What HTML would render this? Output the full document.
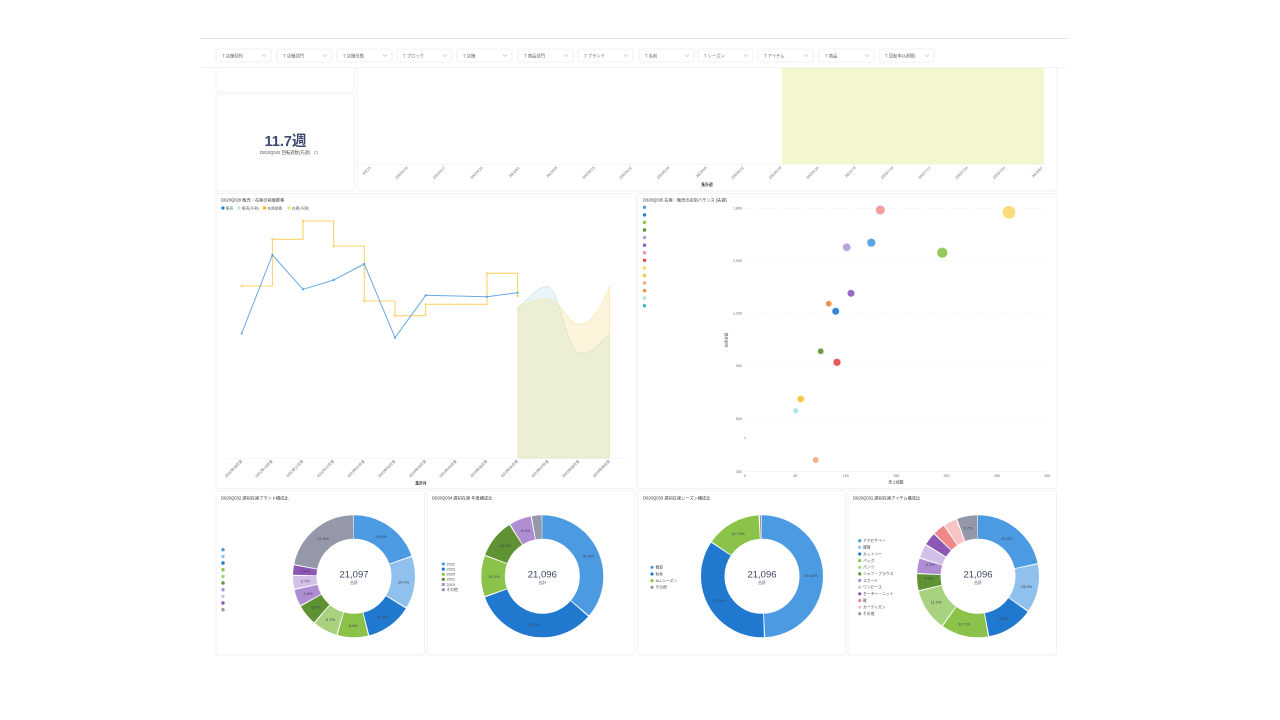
<!DOCTYPE html>
<html><head><meta charset="utf-8">
<style>
html,body{margin:0;padding:0;background:#fff;}
svg{display:block;font-family:"Liberation Sans","Noto Sans CJK JP",sans-serif;}
</style></head><body>
<svg width="1280" height="720" viewBox="0 0 1280 720">
<rect width="1280" height="720" fill="#fff"/>
<line x1="200" y1="38.5" x2="1068" y2="38.5" stroke="#e3e5e9" stroke-width="1"/>

<!-- cards -->
<g fill="#fff" stroke="#eceef1" stroke-width="0.8">
<rect x="216" y="40" width="138" height="52" rx="2"/>
<rect x="216" y="94" width="138" height="97" rx="2"/>
<rect x="357" y="40" width="700" height="151" rx="2"/>
<rect x="216" y="193.5" width="420" height="295" rx="2"/>
<rect x="638" y="193.5" width="419" height="295" rx="2"/>
<rect x="216" y="490.5" width="208.5" height="164.5" rx="2"/>
<rect x="427" y="490.5" width="208" height="164.5" rx="2"/>
<rect x="638" y="490.5" width="207.5" height="164.5" rx="2"/>
<rect x="848" y="490.5" width="208.5" height="164.5" rx="2"/>
</g>

<!-- filter bar -->
<rect x="200" y="39" width="868" height="28" fill="#fff"/>
<line x1="200" y1="67.5" x2="1068" y2="67.5" stroke="#eef0f2" stroke-width="0.8"/>
<g font-size="4.3" fill="#666">
<g fill="#fff" stroke="#e3e5e8" stroke-width="0.6">
<rect x="216" y="49" width="55" height="13" rx="2"/>
<rect x="277" y="49" width="55" height="13" rx="2"/>
<rect x="337" y="49" width="55" height="13" rx="2"/>
<rect x="397" y="49" width="55" height="13" rx="2"/>
<rect x="457" y="49" width="55" height="13" rx="2"/>
<rect x="518" y="49" width="55" height="13" rx="2"/>
<rect x="578" y="49" width="55" height="13" rx="2"/>
<rect x="639" y="49" width="55" height="13" rx="2"/>
<rect x="698" y="49" width="55" height="13" rx="2"/>
<rect x="758" y="49" width="55" height="13" rx="2"/>
<rect x="819" y="49" width="55" height="13" rx="2"/>
<rect x="879" y="49" width="55" height="13" rx="2"/>
</g>
<text x="222" y="57.3">T 店舗契約</text>
<text x="283" y="57.3">T 店舗部門</text>
<text x="343" y="57.3">T 店舗形態</text>
<text x="403" y="57.3">T ブロック</text>
<text x="463" y="57.3">T 店舗</text>
<text x="524" y="57.3">T 商品部門</text>
<text x="584" y="57.3">T ブランド</text>
<text x="645" y="57.3">T 名前</text>
<text x="704" y="57.3">T シーズン</text>
<text x="764" y="57.3">T アイテム</text>
<text x="825" y="57.3">T 商品</text>
<text x="885" y="57.3">T 回転率(4週間)</text>
<g fill="none" stroke="#888" stroke-width="0.5">
<polyline points="262,54.5 264,56.5 266,54.5"/>
<polyline points="323,54.5 325,56.5 327,54.5"/>
<polyline points="383,54.5 385,56.5 387,54.5"/>
<polyline points="443,54.5 445,56.5 447,54.5"/>
<polyline points="503,54.5 505,56.5 507,54.5"/>
<polyline points="564,54.5 566,56.5 568,54.5"/>
<polyline points="624,54.5 626,56.5 628,54.5"/>
<polyline points="685,54.5 687,56.5 689,54.5"/>
<polyline points="744,54.5 746,56.5 748,54.5"/>
<polyline points="804,54.5 806,56.5 808,54.5"/>
<polyline points="865,54.5 867,56.5 869,54.5"/>
<polyline points="925,54.5 927,56.5 929,54.5"/>
</g>
</g>

<!-- KPI -->
<text x="285.5" y="146" font-size="14.5" font-weight="bold" fill="#3b4a6e" text-anchor="middle">11.7週</text>
<text x="285" y="154" font-size="4.3" fill="#555" text-anchor="middle">D020Q042 回転週数(先週)</text>
<circle cx="316" cy="152.6" r="1.6" fill="none" stroke="#888" stroke-width="0.5"/>

<!-- top chart -->
<rect x="782" y="68" width="262" height="96" fill="#f4f6cd"/>
<line x1="358" y1="164.3" x2="1046" y2="164.3" stroke="#eef0f2" stroke-width="0.6"/>
<g font-size="3.6" fill="#667" text-anchor="end">
<text transform="translate(371,168) rotate(-45)">4/3/23</text>
<text transform="translate(408,168) rotate(-45)">2023/4/10</text>
<text transform="translate(445.5,168) rotate(-45)">2023/4/17</text>
<text transform="translate(483,168) rotate(-45)">2023/4/24</text>
<text transform="translate(520,168) rotate(-45)">2023/5/1</text>
<text transform="translate(557.5,168) rotate(-45)">2023/5/8</text>
<text transform="translate(595,168) rotate(-45)">2023/5/15</text>
<text transform="translate(632,168) rotate(-45)">2023/5/22</text>
<text transform="translate(669.5,168) rotate(-45)">2023/5/29</text>
<text transform="translate(707,168) rotate(-45)">2023/6/5</text>
<text transform="translate(744,168) rotate(-45)">2023/6/12</text>
<text transform="translate(781.5,168) rotate(-45)">2023/6/19</text>
<text transform="translate(819,168) rotate(-45)">2023/6/26</text>
<text transform="translate(856,168) rotate(-45)">2023/7/3</text>
<text transform="translate(893.5,168) rotate(-45)">2023/7/10</text>
<text transform="translate(931,168) rotate(-45)">2023/7/17</text>
<text transform="translate(968,168) rotate(-45)">2023/7/24</text>
<text transform="translate(1005.5,168) rotate(-45)">2023/7/31</text>
<text transform="translate(1043,168) rotate(-45)">2023/8/7</text>
</g>
<text x="707" y="186" font-size="3.8" fill="#334" text-anchor="middle" font-weight="bold">集計週</text>

<!-- line chart -->
<text x="221" y="201.5" font-size="4.2" fill="#333">D020Q020 販売・在庫の前後推移</text>
<g font-size="3.6" fill="#555">
<circle cx="223" cy="208" r="1.6" fill="#1f78d1"/><text x="226" y="209.3">販売</text>
<circle cx="239" cy="208" r="1.6" fill="#b8e3e6"/><text x="242" y="209.3">販売(予測)</text>
<circle cx="264.5" cy="208" r="1.6" fill="#f5b800"/><text x="267.5" y="209.3">在庫金額</text>
<circle cx="289" cy="208" r="1.6" fill="#fcd97a"/><text x="292" y="209.3">在庫(予測)</text>
</g>
<line x1="226" y1="458.5" x2="626" y2="458.5" stroke="#eef0f2" stroke-width="0.6"/>
<path d="M518,307.3 C530,298 538,286 547.3,286.7 C560,288 566,350 579,352.7 C592,355 600,343 609.7,333.3 L609.7,458 L518,458 Z" fill="#e9f5f6" stroke="#bfe4e8" stroke-width="0.6"/>
<path d="M518,307.3 C528,302 538,299 547.3,299 C560,299 568,324 579,324.3 C592,325 602,305 609.7,286 L609.7,458 L518,458 Z" fill="rgba(246,222,135,0.3)" stroke="#fbe3a3" stroke-width="0.6"/>
<path d="M241.7,286 H272.4 V239.3 H303 V221 H333.7 V246 H364.3 V301 H395 V315.7 H425.7 V304.3 H487 V273.3 H517.6 V296" fill="none" stroke="#fbd46c" stroke-width="1.1"/>
<g fill="#fbd46c">
<circle cx="241.7" cy="286" r="1.2"/><circle cx="272.4" cy="239.3" r="1.2"/><circle cx="303" cy="221" r="1.2"/><circle cx="333.7" cy="246" r="1.2"/><circle cx="364.3" cy="301" r="1.2"/><circle cx="395" cy="315.7" r="1.2"/><circle cx="425.7" cy="304.3" r="1.2"/><circle cx="487" cy="273.3" r="1.2"/><circle cx="517.6" cy="296" r="1.2"/>
</g>
<polyline points="241.7,333.3 272.4,255 303,289.3 333.7,280 364.3,264 395,337.7 425.7,295.3 456.3,296 487,296.7 517.6,292.7" fill="none" stroke="#6aaae3" stroke-width="1"/>
<g fill="#5a9fe0">
<circle cx="241.7" cy="333.3" r="1.1"/><circle cx="272.4" cy="255" r="1.1"/><circle cx="303" cy="289.3" r="1.1"/><circle cx="333.7" cy="280" r="1.1"/><circle cx="364.3" cy="264" r="1.1"/><circle cx="395" cy="337.7" r="1.1"/><circle cx="425.7" cy="295.3" r="1.1"/><circle cx="487" cy="296.7" r="1.1"/><circle cx="517.6" cy="292.7" r="1.1"/>
</g>
<g font-size="3.6" fill="#667" text-anchor="end">
<text transform="translate(242.5,461.5) rotate(-45)">2022年09月度</text>
<text transform="translate(273,461.5) rotate(-45)">2022年10月度</text>
<text transform="translate(303.7,461.5) rotate(-45)">2022年11月度</text>
<text transform="translate(334.4,461.5) rotate(-45)">2022年12月度</text>
<text transform="translate(365,461.5) rotate(-45)">2023年01月度</text>
<text transform="translate(395.7,461.5) rotate(-45)">2023年02月度</text>
<text transform="translate(426.4,461.5) rotate(-45)">2023年03月度</text>
<text transform="translate(457,461.5) rotate(-45)">2023年04月度</text>
<text transform="translate(487.7,461.5) rotate(-45)">2023年05月度</text>
<text transform="translate(518.3,461.5) rotate(-45)">2023年06月度</text>
<text transform="translate(549,461.5) rotate(-45)">2023年07月度</text>
<text transform="translate(579.7,461.5) rotate(-45)">2023年08月度</text>
<text transform="translate(610.3,461.5) rotate(-45)">2023年09月度</text>
</g>
<text x="421" y="484.5" font-size="3.8" fill="#334" text-anchor="middle" font-weight="bold">集計月</text>

<!-- scatter -->
<text x="643" y="201.5" font-size="4.2" fill="#333">D020Q035 在庫・販売の店別バランス (先週)</text>
<g>
<circle cx="644.5" cy="207.3" r="1.7" fill="#4c9be2"/>
<circle cx="644.5" cy="214.9" r="1.7" fill="#1f7bd1"/>
<circle cx="644.5" cy="222.4" r="1.7" fill="#8bc34a"/>
<circle cx="644.5" cy="230" r="1.7" fill="#5d9130"/>
<circle cx="644.5" cy="237.6" r="1.7" fill="#b39ad6"/>
<circle cx="644.5" cy="245.2" r="1.7" fill="#8e5cc0"/>
<circle cx="644.5" cy="252.7" r="1.7" fill="#f29494"/>
<circle cx="644.5" cy="260.3" r="1.7" fill="#e84545"/>
<circle cx="644.5" cy="267.9" r="1.7" fill="#fdd85a"/>
<circle cx="644.5" cy="275.4" r="1.7" fill="#f8c22e"/>
<circle cx="644.5" cy="283" r="1.7" fill="#f5a97a"/>
<circle cx="644.5" cy="290.6" r="1.7" fill="#ef8a3c"/>
<circle cx="644.5" cy="298.1" r="1.7" fill="#a3e2e2"/>
<circle cx="644.5" cy="305.7" r="1.7" fill="#3cbcbc"/>
</g>
<g stroke="#e6e8eb" stroke-width="0.5" stroke-dasharray="1.5,1.5">
<line x1="745" y1="208.3" x2="1047" y2="208.3"/>
<line x1="745" y1="261" x2="1047" y2="261"/>
<line x1="745" y1="313.3" x2="1047" y2="313.3"/>
<line x1="745" y1="366" x2="1047" y2="366"/>
<line x1="745" y1="419" x2="1047" y2="419"/>
</g>
<line x1="745" y1="471.7" x2="1047" y2="471.7" stroke="#eceef1" stroke-width="0.6"/>
<g font-size="3.6" fill="#667" text-anchor="end">
<text x="742" y="209.5">1,800</text>
<text x="742" y="262.2">1,500</text>
<text x="742" y="314.5">1,200</text>
<text x="742" y="367.2">900</text>
<text x="742" y="420.2">600</text>
<text x="742" y="472.9">300</text>
</g>
<g font-size="3.6" fill="#667" text-anchor="middle">
<text x="745" y="477">0</text>
<text x="795.4" y="477">50</text>
<text x="845.8" y="477">100</text>
<text x="896.2" y="477">150</text>
<text x="946.5" y="477">200</text>
<text x="996.9" y="477">250</text>
<text x="1047.3" y="477">300</text>
</g>
<text transform="translate(727.5,340) rotate(-90)" font-size="3.6" fill="#445" text-anchor="middle">在庫金額</text>
<text x="896" y="483.5" font-size="3.8" fill="#334" text-anchor="middle">売上枚数</text>
<g stroke="#fff" stroke-width="0.4" fill-opacity="0.9">
<circle cx="880.3" cy="210" r="4.7" fill="#f29494"/>
<circle cx="1009" cy="212.3" r="6.6" fill="#fbd86e"/>
<circle cx="871.3" cy="242.7" r="4.3" fill="#4c9be2"/>
<circle cx="846.7" cy="247.3" r="4.1" fill="#b39ad6"/>
<circle cx="942.3" cy="252.7" r="5.3" fill="#8bc34a"/>
<circle cx="851" cy="293.3" r="3.7" fill="#8e5cc0"/>
<circle cx="828.7" cy="303.7" r="3.1" fill="#ef8a3c"/>
<circle cx="835.7" cy="311.3" r="3.7" fill="#1f7bd1"/>
<circle cx="820.7" cy="351.3" r="3.1" fill="#5d9130"/>
<circle cx="837" cy="362.3" r="3.8" fill="#e84545"/>
<circle cx="800.7" cy="399" r="3.5" fill="#f8c22e"/>
<circle cx="795.7" cy="410.7" r="2.8" fill="#a3e2e2"/>
<circle cx="745" cy="438" r="1" fill="#3cbcbc"/>
<circle cx="815.7" cy="460" r="3.1" fill="#f5a97a"/>
</g>

<!-- donut titles -->
<g font-size="4.2" fill="#333">
<text x="221" y="499.5">D020Q032 週初在庫ブランド構成比</text>
<text x="432" y="499.5">D020Q034 週初在庫 年度構成比</text>
<text x="643" y="499.5">D020Q033 週初在庫シーズン構成比</text>
<text x="853" y="499.5">D020Q031 週初在庫アイテム構成比</text>
</g>

<!-- donut 1 -->
<g fill="none" stroke-width="23.5" transform="rotate(-90 354 576.3)">
<circle cx="354" cy="576.3" r="49.25" stroke="#4c9be2" stroke-dasharray="60.27 400" stroke-dashoffset="0"/>
<circle cx="354" cy="576.3" r="49.25" stroke="#8fc0ee" stroke-dasharray="42.32 400" stroke-dashoffset="-61.27"/>
<circle cx="354" cy="576.3" r="49.25" stroke="#2079cf" stroke-dasharray="37.37 400" stroke-dashoffset="-104.58"/>
<circle cx="354" cy="576.3" r="49.25" stroke="#8bc34a" stroke-dasharray="24.99 400" stroke-dashoffset="-142.95"/>
<circle cx="354" cy="576.3" r="49.25" stroke="#a8d27e" stroke-dasharray="19.73 400" stroke-dashoffset="-168.94"/>
<circle cx="354" cy="576.3" r="49.25" stroke="#5e9232" stroke-dasharray="16.64 400" stroke-dashoffset="-189.68"/>
<circle cx="354" cy="576.3" r="49.25" stroke="#ae8dd3" stroke-dasharray="13.23 400" stroke-dashoffset="-207.31"/>
<circle cx="354" cy="576.3" r="49.25" stroke="#d3c0e7" stroke-dasharray="10.45 400" stroke-dashoffset="-221.54"/>
<circle cx="354" cy="576.3" r="49.25" stroke="#8c57b5" stroke-dasharray="7.66 400" stroke-dashoffset="-232.99"/>
<circle cx="354" cy="576.3" r="49.25" stroke="#9598a9" stroke-dasharray="66.76 400" stroke-dashoffset="-241.66"/>
</g>
<g font-size="4" fill="#3d4256" text-anchor="middle">
<text x="381" y="537.8">19.8%</text>
<text x="403.5" y="583.3">14.0%</text>
<text x="382.5" y="618.3">12.4%</text>
<text x="353" y="626.8">8.4%</text>
<text x="330.5" y="621">6.7%</text>
<text x="316" y="608.7">5.7%</text>
<text x="308.1" y="595">4.6%</text>
<text x="305.2" y="582.6">3.7%</text>
<text x="305.3" y="572.6">2.8%</text>
<text x="322.9" y="539.9">21.9%</text>
</g>
<text x="354" y="577.5" font-size="9.5" fill="#3d4663" text-anchor="middle">21,097</text>
<text x="354" y="583.8" font-size="4" fill="#3d4663" text-anchor="middle">合計</text>
<g>
<circle cx="223" cy="549.7" r="1.7" fill="#4c9be2"/>
<circle cx="223" cy="556.4" r="1.7" fill="#8fc0ee"/>
<circle cx="223" cy="563" r="1.7" fill="#2079cf"/>
<circle cx="223" cy="569.7" r="1.7" fill="#8bc34a"/>
<circle cx="223" cy="576.4" r="1.7" fill="#a8d27e"/>
<circle cx="223" cy="583" r="1.7" fill="#5e9232"/>
<circle cx="223" cy="589.7" r="1.7" fill="#ae8dd3"/>
<circle cx="223" cy="596.4" r="1.7" fill="#d3c0e7"/>
<circle cx="223" cy="603" r="1.7" fill="#8c57b5"/>
<circle cx="223" cy="609.7" r="1.7" fill="#9598a9"/>
</g>

<!-- donut 2 -->
<g fill="none" stroke-width="23.5" transform="rotate(-90 542.3 576.3)">
<circle cx="542.3" cy="576.3" r="49.25" stroke="#4c9be2" stroke-dasharray="111.63 400" stroke-dashoffset="0"/>
<circle cx="542.3" cy="576.3" r="49.25" stroke="#2079cf" stroke-dasharray="101.73 400" stroke-dashoffset="-112.63"/>
<circle cx="542.3" cy="576.3" r="49.25" stroke="#8bc34a" stroke-dasharray="33.04 400" stroke-dashoffset="-215.36"/>
<circle cx="542.3" cy="576.3" r="49.25" stroke="#5e9232" stroke-dasharray="31.49 400" stroke-dashoffset="-249.4"/>
<circle cx="542.3" cy="576.3" r="49.25" stroke="#ae8dd3" stroke-dasharray="17.57 400" stroke-dashoffset="-281.89"/>
<circle cx="542.3" cy="576.3" r="49.25" stroke="#9598a9" stroke-dasharray="7.97 400" stroke-dashoffset="-300.45"/>
</g>
<g font-size="4" fill="#3d4256" text-anchor="middle">
<text x="588" y="557.5">36.4%</text>
<text x="533.5" y="626">33.2%</text>
<text x="494" y="578">11.0%</text>
<text x="505.2" y="547">10.5%</text>
<text x="525.5" y="532">6.0%</text>
</g>
<text x="542.3" y="577.5" font-size="9.5" fill="#3d4663" text-anchor="middle">21,096</text>
<text x="542.3" y="583.8" font-size="4" fill="#3d4663" text-anchor="middle">合計</text>
<g font-size="3.8" fill="#444">
<circle cx="443.3" cy="564" r="1.6" fill="#4c9be2"/><text x="446.5" y="565.3">2022</text>
<circle cx="443.3" cy="569.1" r="1.6" fill="#2079cf"/><text x="446.5" y="570.4">2023</text>
<circle cx="443.3" cy="574.3" r="1.6" fill="#8bc34a"/><text x="446.5" y="575.6">2020</text>
<circle cx="443.3" cy="579.4" r="1.6" fill="#5e9232"/><text x="446.5" y="580.7">2021</text>
<circle cx="443.3" cy="584.5" r="1.6" fill="#ae8dd3"/><text x="446.5" y="585.8">2019</text>
<circle cx="443.3" cy="589.7" r="1.6" fill="#9598a9"/><text x="446.5" y="591">その他</text>
</g>

<!-- donut 3 -->
<g fill="none" stroke-width="23.5" transform="rotate(-90 762 576.3)">
<circle cx="762" cy="576.3" r="49.25" stroke="#4c9be2" stroke-dasharray="151.85 400" stroke-dashoffset="0"/>
<circle cx="762" cy="576.3" r="49.25" stroke="#2079cf" stroke-dasharray="107.61 400" stroke-dashoffset="-152.85"/>
<circle cx="762" cy="576.3" r="49.25" stroke="#8bc34a" stroke-dasharray="44.61 400" stroke-dashoffset="-261.46"/>
<circle cx="762" cy="576.3" r="49.25" stroke="#9598a9" stroke-dasharray="1.35 400" stroke-dashoffset="-307.07"/>
</g>
<g font-size="4" fill="#3d4256" text-anchor="middle">
<text x="811" y="577">49.40%</text>
<text x="719" y="601.8">35.10%</text>
<text x="738" y="535">14.74%</text>
</g>
<text x="762" y="577.5" font-size="9.5" fill="#3d4663" text-anchor="middle">21,096</text>
<text x="762" y="583.8" font-size="4" fill="#3d4663" text-anchor="middle">合計</text>
<g font-size="3.8" fill="#444">
<circle cx="652" cy="567.3" r="1.6" fill="#4c9be2"/><text x="655.5" y="568.6">春夏</text>
<circle cx="652" cy="574" r="1.6" fill="#2079cf"/><text x="655.5" y="575.3">秋冬</text>
<circle cx="652" cy="580.7" r="1.6" fill="#8bc34a"/><text x="655.5" y="582">ALLシーズン</text>
<circle cx="652" cy="587.3" r="1.6" fill="#9598a9"/><text x="655.5" y="588.6">その他</text>
</g>

<!-- donut 4 -->
<g fill="none" stroke-width="23.5" transform="rotate(-90 978 576.3)">
<circle cx="978" cy="576.3" r="49.25" stroke="#4c9be2" stroke-dasharray="66.45 400" stroke-dashoffset="0"/>
<circle cx="978" cy="576.3" r="49.25" stroke="#8fc0ee" stroke-dasharray="39.22 400" stroke-dashoffset="-67.45"/>
<circle cx="978" cy="576.3" r="49.25" stroke="#2079cf" stroke-dasharray="37.68 400" stroke-dashoffset="-107.68"/>
<circle cx="978" cy="576.3" r="49.25" stroke="#8bc34a" stroke-dasharray="38.3 400" stroke-dashoffset="-146.36"/>
<circle cx="978" cy="576.3" r="49.25" stroke="#a8d27e" stroke-dasharray="33.66 400" stroke-dashoffset="-185.65"/>
<circle cx="978" cy="576.3" r="49.25" stroke="#5e9232" stroke-dasharray="13.23 400" stroke-dashoffset="-220.31"/>
<circle cx="978" cy="576.3" r="49.25" stroke="#ae8dd3" stroke-dasharray="11.69 400" stroke-dashoffset="-234.54"/>
<circle cx="978" cy="576.3" r="49.25" stroke="#d3c0e7" stroke-dasharray="10.76 400" stroke-dashoffset="-247.23"/>
<circle cx="978" cy="576.3" r="49.25" stroke="#8c57b5" stroke-dasharray="10.14 400" stroke-dashoffset="-258.99"/>
<circle cx="978" cy="576.3" r="49.25" stroke="#ef8787" stroke-dasharray="9.52 400" stroke-dashoffset="-270.13"/>
<circle cx="978" cy="576.3" r="49.25" stroke="#f6c4c4" stroke-dasharray="10.14 400" stroke-dashoffset="-280.65"/>
<circle cx="978" cy="576.3" r="49.25" stroke="#9598a9" stroke-dasharray="16.64 400" stroke-dashoffset="-291.79"/>
</g>
<g font-size="4" fill="#3d4256" text-anchor="middle">
<text x="1007" y="539.8">21.8%</text>
<text x="1026.5" y="588">13.0%</text>
<text x="1003" y="620">12.5%</text>
<text x="964" y="625.5">12.7%</text>
<text x="936" y="603.5">11.2%</text>
<text x="928.6" y="579.5">4.6%</text>
<text x="930.2" y="565.8">4.1%</text>
<text x="968" y="529.5">5.7%</text>
</g>
<text x="978" y="577.5" font-size="9.5" fill="#3d4663" text-anchor="middle">21,096</text>
<text x="978" y="583.8" font-size="4" fill="#3d4663" text-anchor="middle">合計</text>
<g font-size="3.8" fill="#444">
<circle cx="859.7" cy="540.7" r="1.6" fill="#4c9be2"/><text x="863" y="542">アクセサリー</text>
<circle cx="859.7" cy="547.3" r="1.6" fill="#8fc0ee"/><text x="863" y="548.6">雑貨</text>
<circle cx="859.7" cy="554" r="1.6" fill="#2079cf"/><text x="863" y="555.3">カットソー</text>
<circle cx="859.7" cy="560.6" r="1.6" fill="#8bc34a"/><text x="863" y="561.9">バッグ</text>
<circle cx="859.7" cy="567.3" r="1.6" fill="#a8d27e"/><text x="863" y="568.6">パンツ</text>
<circle cx="859.7" cy="573.9" r="1.6" fill="#5e9232"/><text x="863" y="575.2">シャツ・ブラウス</text>
<circle cx="859.7" cy="580.5" r="1.6" fill="#ae8dd3"/><text x="863" y="581.8">スカート</text>
<circle cx="859.7" cy="587.2" r="1.6" fill="#d3c0e7"/><text x="863" y="588.5">ワンピース</text>
<circle cx="859.7" cy="593.8" r="1.6" fill="#8c57b5"/><text x="863" y="595.1">セーター・ニット</text>
<circle cx="859.7" cy="600.5" r="1.6" fill="#ef8787"/><text x="863" y="601.8">靴</text>
<circle cx="859.7" cy="607.1" r="1.6" fill="#f6c4c4"/><text x="863" y="608.4">カーディガン</text>
<circle cx="859.7" cy="613.7" r="1.6" fill="#9598a9"/><text x="863" y="615">その他</text>
</g>
</svg>
</body></html>
